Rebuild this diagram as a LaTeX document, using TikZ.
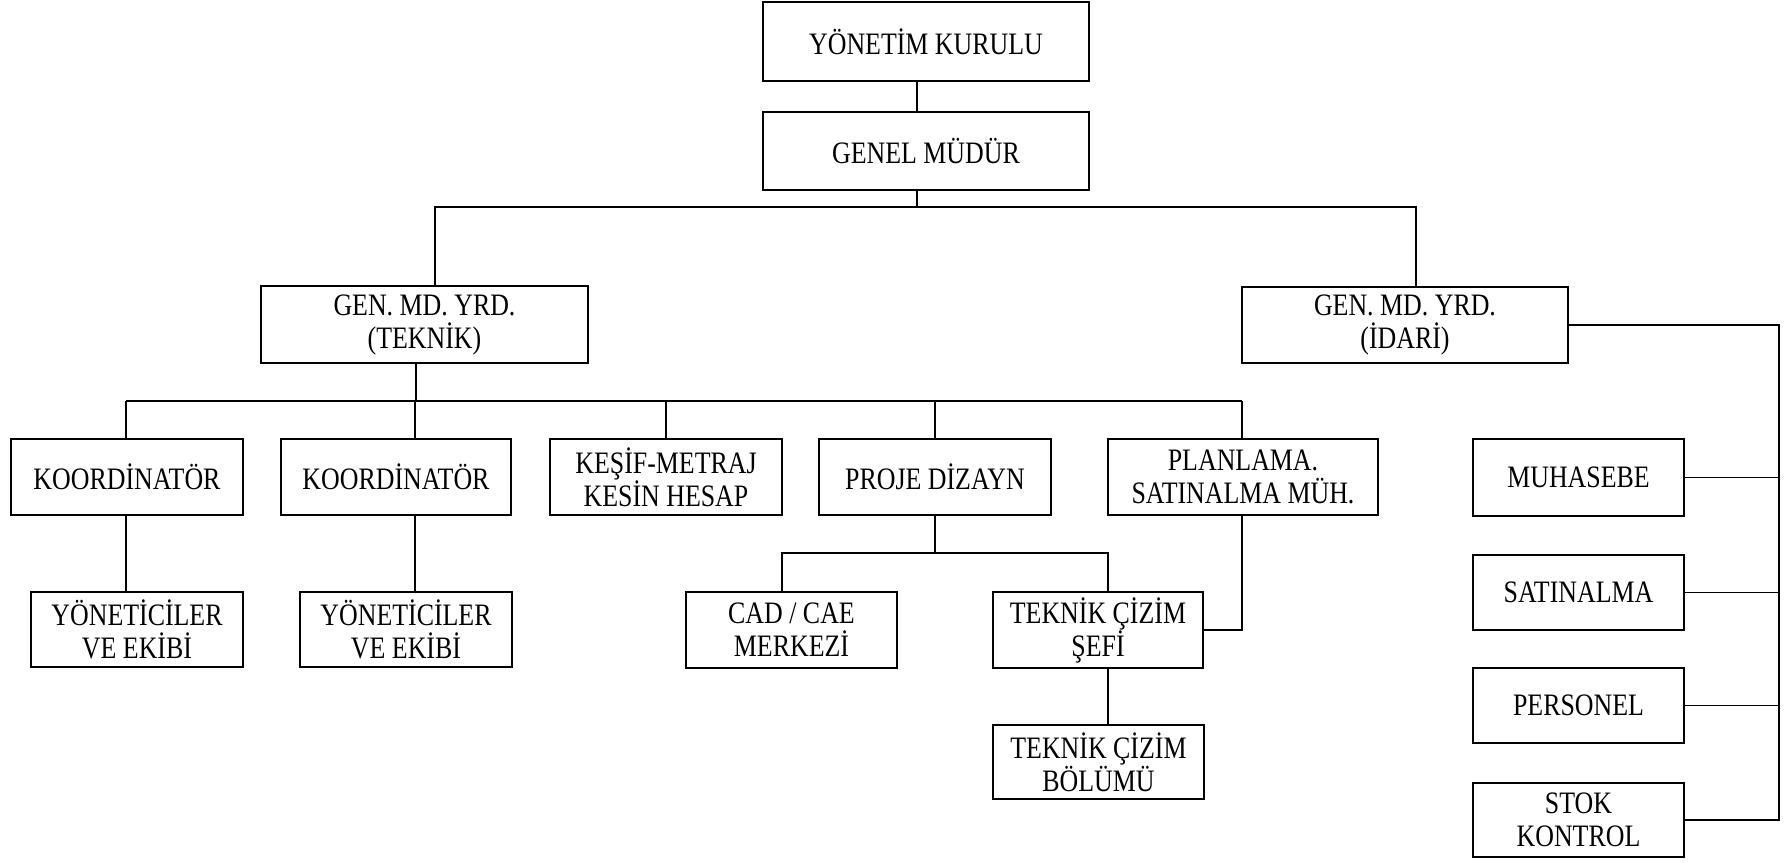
\documentclass[tikz,border=0pt]{standalone}
\usepackage{fontspec}
\setmainfont[FakeStretch=0.83]{Liberation Serif}
\newcommand{\orgbox}[6]{\node[box, minimum width={(#4-#2)*0.5pt}, minimum height={(#5-#3)*0.5pt}] (#1) at ({(#2+#4)/2},{(#3+#5)/2}) {#6};}
\begin{document}
\begin{tikzpicture}[x=0.5pt,y=-0.5pt,
  box/.style={draw, line width=0.6pt, inner sep=0pt, align=center, font=\fontsize{15.6}{16.5}\selectfont},
  link/.style={line width=0.6pt}]
\useasboundingbox (0,0) rectangle (1785,863);
% boxes
\orgbox{yk}{763}{2}{1089}{81}{YÖNETİM KURULU}
\orgbox{gm}{763}{112}{1089}{190}{GENEL MÜDÜR}
\orgbox{tek}{261}{286}{588}{363}{GEN. MD. YRD.\\(TEKNİK)}
\orgbox{ida}{1242}{287}{1568}{363}{GEN. MD. YRD.\\(İDARİ)}
\orgbox{k1}{11}{439}{243}{515}{KOORDİNATÖR}
\orgbox{k2}{281}{439}{511}{515}{KOORDİNATÖR}
\orgbox{kes}{550}{439}{782}{515}{KEŞİF-METRAJ\\KESİN HESAP}
\orgbox{pro}{819}{439}{1051}{515}{PROJE DİZAYN}
\orgbox{pla}{1108}{439}{1378}{515}{PLANLAMA.\\SATINALMA MÜH.}
\orgbox{y1}{31}{592}{243}{667}{YÖNETİCİLER\\VE EKİBİ}
\orgbox{y2}{300}{592}{512}{667}{YÖNETİCİLER\\VE EKİBİ}
\orgbox{cad}{686}{592}{897}{668}{CAD / CAE\\MERKEZİ}
\orgbox{sef}{993}{592}{1203}{668}{TEKNİK ÇİZİM\\ŞEFİ}
\orgbox{bol}{993}{725}{1204}{799}{TEKNİK ÇİZİM\\BÖLÜMÜ}
\orgbox{muh}{1473}{439}{1684}{516}{MUHASEBE}
\orgbox{sat}{1473}{555}{1684}{630}{SATINALMA}
\orgbox{per}{1473}{668}{1684}{743}{PERSONEL}
\orgbox{stk}{1473}{783}{1684}{857}{STOK\\KONTROL}
% bus coordinates
\coordinate (g0) at (917,207);
\coordinate (gT) at (435,207);
\coordinate (gI) at (1416,207);
\coordinate (t0) at (416,401);
\coordinate (t1) at (126,401);
\coordinate (t2) at (415,401);
\coordinate (t3) at (666,401);
\coordinate (t4) at (935,401);
\coordinate (t5) at (1242,401);
\coordinate (p0) at (935,553);
\coordinate (p1) at (782,553);
\coordinate (p2) at (1108,553);
\coordinate (s0) at (1108,668);
\coordinate (pl) at (1242,630);
\coordinate (iv) at (1779,325);
% connectors
\draw[link] (yk.south -| g0) -- (gm.north -| g0);
\draw[link] (gm.south -| g0) -- (g0);
\draw[link] (tek.north -| gT) |- (g0) -| (ida.north -| gI);
\draw[link] (tek.south -| t0) -- (t0);
\draw[link] (t1) -- (t5);
\draw[link] (t1) -- (k1.north -| t1);
\draw[link] (t2) -- (k2.north -| t2);
\draw[link] (t3) -- (kes.north);
\draw[link] (t4) -- (pro.north);
\draw[link] (t5) -- (pla.north -| t5);
\draw[link] (k1.south -| t1) -- (y1.north -| t1);
\draw[link] (k2.south -| t2) -- (y2.north -| t2);
\draw[link] (pro.south -| p0) -- (p0);
\draw[link] (cad.north -| p1) |- (p2) -- (sef.north -| p2);
\draw[link] (sef.south -| s0) -- (bol.north -| s0);
\draw[link] (pla.south -| pl) -- (pl) -- (sef.east);
\draw[link] (ida.east) -- (iv) -- (iv |- stk.east) -- (stk.east);
\draw[link] (muh.east) -- (muh.east -| iv);
\draw[link] (sat.east) -- (sat.east -| iv);
\draw[link] (per.east) -- (per.east -| iv);
\end{tikzpicture}
\end{document}
